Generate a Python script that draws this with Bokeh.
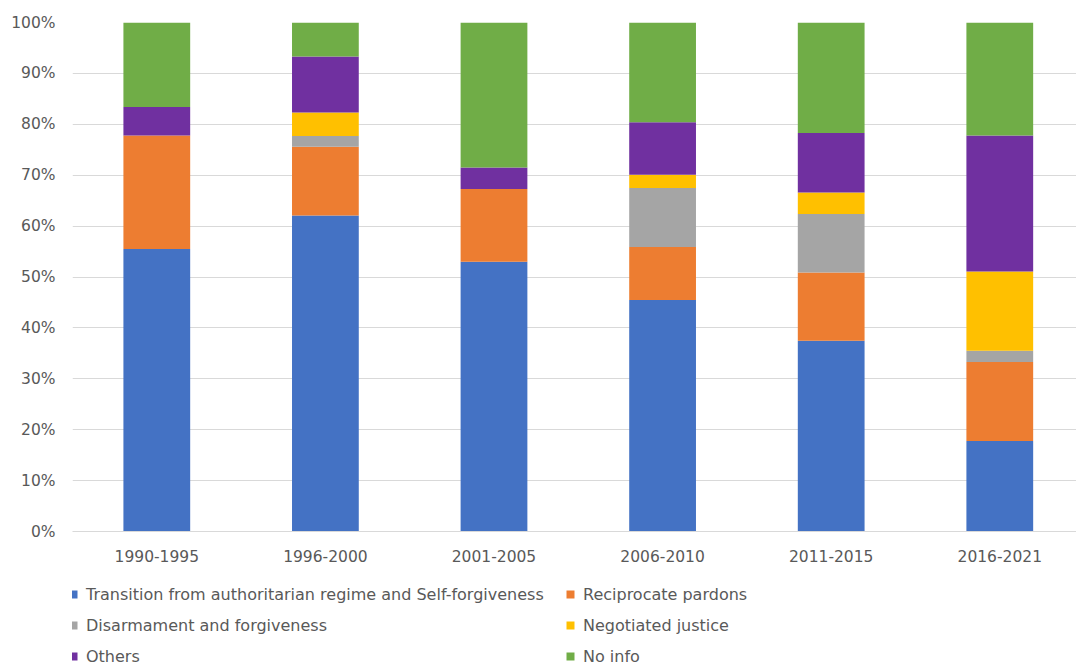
from bokeh.plotting import figure
from bokeh.models import ColumnDataSource, Range1d, FixedTicker, Legend, LegendItem
from bokeh.layouts import column
from bokeh.embed import file_html
from bokeh.resources import INLINE

periods = ["1990-1995", "1996-2000", "2001-2005", "2006-2010", "2011-2015", "2016-2021"]
transition = [55.5, 62.1, 53.0, 45.5, 37.5, 17.8]
reciprocate = [22.3, 13.5, 14.3, 10.4, 13.4, 15.5]
disarmament = [0.0, 2.1, 0.0, 11.6, 11.5, 2.2]
negotiated = [0.0, 4.6, 0.0, 2.6, 4.2, 15.6]
others = [5.6, 11.0, 4.2, 10.3, 11.7, 26.7]
no_info = [16.6, 6.7, 28.5, 19.6, 21.7, 22.2]

series_names = ["Transition from authoritarian regime and Self-forgiveness",
                "Reciprocate pardons", "Disarmament and forgiveness",
                "Negotiated justice", "Others", "No info"]
colors = ["#4472C4", "#ED7D31", "#A5A5A5", "#FFC000", "#7030A0", "#70AD47"]
y_ticks = [0, 10, 20, 30, 40, 50, 60, 70, 80, 90, 100]
y_labels = ["0%", "10%", "20%", "30%", "40%", "50%", "60%", "70%", "80%", "90%", "100%"]

keys = ["s0", "s1", "s2", "s3", "s4", "s5"]
data = {"x": list(range(len(periods)))}
for k, vals in zip(keys, [transition, reciprocate, disarmament, negotiated, others, no_info]):
    data[k] = vals
src = ColumnDataSource(data)

FONT = "DejaVu Sans"
TXT = "#595959"

# ---- main chart ----
p = figure(width=1076, height=575, output_backend="svg", toolbar_location=None,
           x_range=Range1d(-0.5, 5.455), y_range=Range1d(0, 100),
           min_border_left=72, min_border_right=0, min_border_top=22,
           min_border_bottom=44)
p.outline_line_color = None
p.background_fill_color = "white"
p.border_fill_color = "white"

p.vbar_stack(keys, x="x", width=0.396, color=colors, line_color=None, source=src)

p.xgrid.grid_line_color = None
p.ygrid.grid_line_color = "#D9D9D9"
p.ygrid.grid_line_width = 1
p.ygrid.ticker = FixedTicker(ticks=y_ticks)

p.yaxis.ticker = FixedTicker(ticks=y_ticks)
p.yaxis.major_label_overrides = {t: l for t, l in zip(y_ticks, y_labels)}
p.yaxis.axis_line_color = None
p.yaxis.major_tick_line_color = None
p.yaxis.minor_tick_line_color = None
p.yaxis.major_tick_out = 0
p.yaxis.major_tick_in = 0
p.yaxis.major_label_standoff = 17
p.yaxis.major_label_text_font = FONT
p.yaxis.major_label_text_font_size = "15.5px"
p.yaxis.major_label_text_color = TXT

p.xaxis.ticker = FixedTicker(ticks=list(range(len(periods))))
p.xaxis.major_label_overrides = {i: s for i, s in enumerate(periods)}
p.xaxis.axis_line_color = "#D9D9D9"
p.xaxis.major_tick_line_color = None
p.xaxis.minor_tick_line_color = None
p.xaxis.major_tick_out = 0
p.xaxis.major_tick_in = 0
p.xaxis.major_label_standoff = 18
p.xaxis.major_label_text_font = FONT
p.xaxis.major_label_text_font_size = "15.5px"
p.xaxis.major_label_text_color = TXT

# ---- legend strip (its bar renderers sit outside the visible x range) ----
lg = figure(width=1076, height=91, output_backend="svg", toolbar_location=None,
            x_range=Range1d(-20, -19), y_range=Range1d(0, 100),
            x_axis_location=None, y_axis_location=None,
            min_border=0, min_border_left=0, min_border_right=0,
            min_border_top=0, min_border_bottom=0)
lg.grid.visible = False
lg.outline_line_color = None
lg.background_fill_color = "white"
lg.border_fill_color = "white"
leg_r = lg.vbar_stack(keys, x="x", width=0.396, color=colors, line_color=None, source=src)

order = [0, 2, 4, 1, 3, 5]
items = [LegendItem(label=series_names[i], renderers=[leg_r[i]]) for i in order]
legend = Legend(items=items, orientation="vertical", ncols=2, location=(-4, 0),
                border_line_color=None, background_fill_alpha=0,
                label_text_font=FONT, label_text_font_size="16px", label_text_color=TXT,
                glyph_width=10, glyph_height=10, label_standoff=8, spacing=11,
                label_width=468, label_height=20, padding=0, margin=0)
lg.add_layout(legend, "center")

layout = column(p, lg, spacing=0)
open("out.html", "w").write(file_html(layout, INLINE))
